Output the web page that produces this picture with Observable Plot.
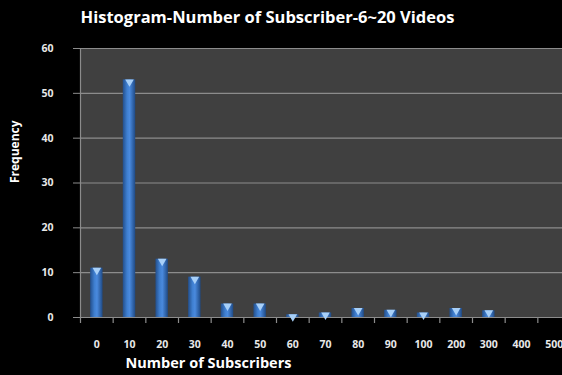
<!DOCTYPE html>
<html>
<head>
<meta charset="utf-8">
<script src="https://cdn.jsdelivr.net/npm/d3@7"></script>
<script src="https://cdn.jsdelivr.net/npm/@observablehq/plot@0.6"></script>
<style>
  html, body { margin: 0; padding: 0; background: #000; overflow: hidden; }
</style>
</head>
<body>
<div id="chart"></div>
<script>
const categories = ["0","10","20","30","40","50","60","70","80","90","100","200","300","400","500"];
const frequencies = [11, 53, 13, 9, 3, 3, 0.6, 1, 2, 1.6, 1, 2, 1.5, 0, 0];
const yTicks = [0, 10, 20, 30, 40, 50, 60];
const title = "Histogram-Number of Subscriber-6~20 Videos";
const xLabel = "Number of Subscribers";
const yLabel = "Frequency";

const data = categories.map((c, i) => ({cat: c, freq: frequencies[i]}));

const defs = () => {
  const g = d3.create("svg:defs");
  const lg = g.append("linearGradient").attr("id", "barGrad").attr("x1", 0).attr("x2", 1).attr("y1", 0).attr("y2", 0);
  lg.append("stop").attr("offset", "0%").attr("stop-color", "#234f8c");
  lg.append("stop").attr("offset", "35%").attr("stop-color", "#3f7fd0");
  lg.append("stop").attr("offset", "55%").attr("stop-color", "#4a8ade");
  lg.append("stop").attr("offset", "100%").attr("stop-color", "#1f4a85");
  return g.node();
};

const chart = Plot.plot({
  width: 562,
  height: 375,
  marginTop: 48,
  marginBottom: 58,
  marginLeft: 80,
  marginRight: 0,
  style: {background: "#000", color: "#fff", fontFamily: "'Open Sans', 'DejaVu Sans', sans-serif", fontWeight: "bold", overflow: "hidden"},
  x: {type: "band", domain: categories, range: [80, 570], paddingInner: 0.62, paddingOuter: 0.31, round: false},
  y: {domain: [0, 60]},
  marks: [
    defs,
    Plot.frame({fill: "#404040", stroke: null}),
    Plot.gridY(yTicks, {stroke: "#8c8c8c", strokeOpacity: 1, strokeWidth: 1.2}),
    Plot.frame({anchor: "left", stroke: "#8c8c8c", strokeWidth: 1.2}),
    Plot.frame({anchor: "bottom", stroke: "#8c8c8c", strokeWidth: 1.2}),
    Plot.axisY({ticks: yTicks, tickSize: 7, tickPadding: 20, fontSize: 10.5, fontWeight: "bold", fill: "#e8e8e8", stroke: "#8c8c8c", label: null}),
    Plot.axisX({tickSize: 0, tickPadding: 23, fontSize: 10.5, fontWeight: "bold", fill: "#e8e8e8", label: null}),
    Plot.ruleX(categories, {x: d => d, dx: -490 / 15 / 2, insetTop: 269, insetBottom: -6, stroke: "#8c8c8c", strokeWidth: 1.2}),
    Plot.barY(data, {x: "cat", y: "freq", fill: "url(#barGrad)"}),
    Plot.dot(data.filter(d => d.freq > 0), {x: "cat", y: "freq", symbol: "triangle", rotate: 180, r: 3.2, dy: 2, fill: "#a8d0f8", stroke: null}),
    Plot.text([title], {frameAnchor: "top", dx: -54, dy: -26, lineAnchor: "bottom", fontSize: 16.5, fontWeight: "bold", fill: "#fff"}),
    Plot.text([yLabel], {frameAnchor: "left", dx: -65, rotate: -90, fontSize: 12, fontWeight: "bold", fill: "#fff"}),
    Plot.text([xLabel], {frameAnchor: "bottom", dx: -113, dy: 50, fontSize: 14.5, fontWeight: "bold", fill: "#fff"})
  ]
});
document.getElementById("chart").appendChild(chart);
</script>
</body>
</html>
